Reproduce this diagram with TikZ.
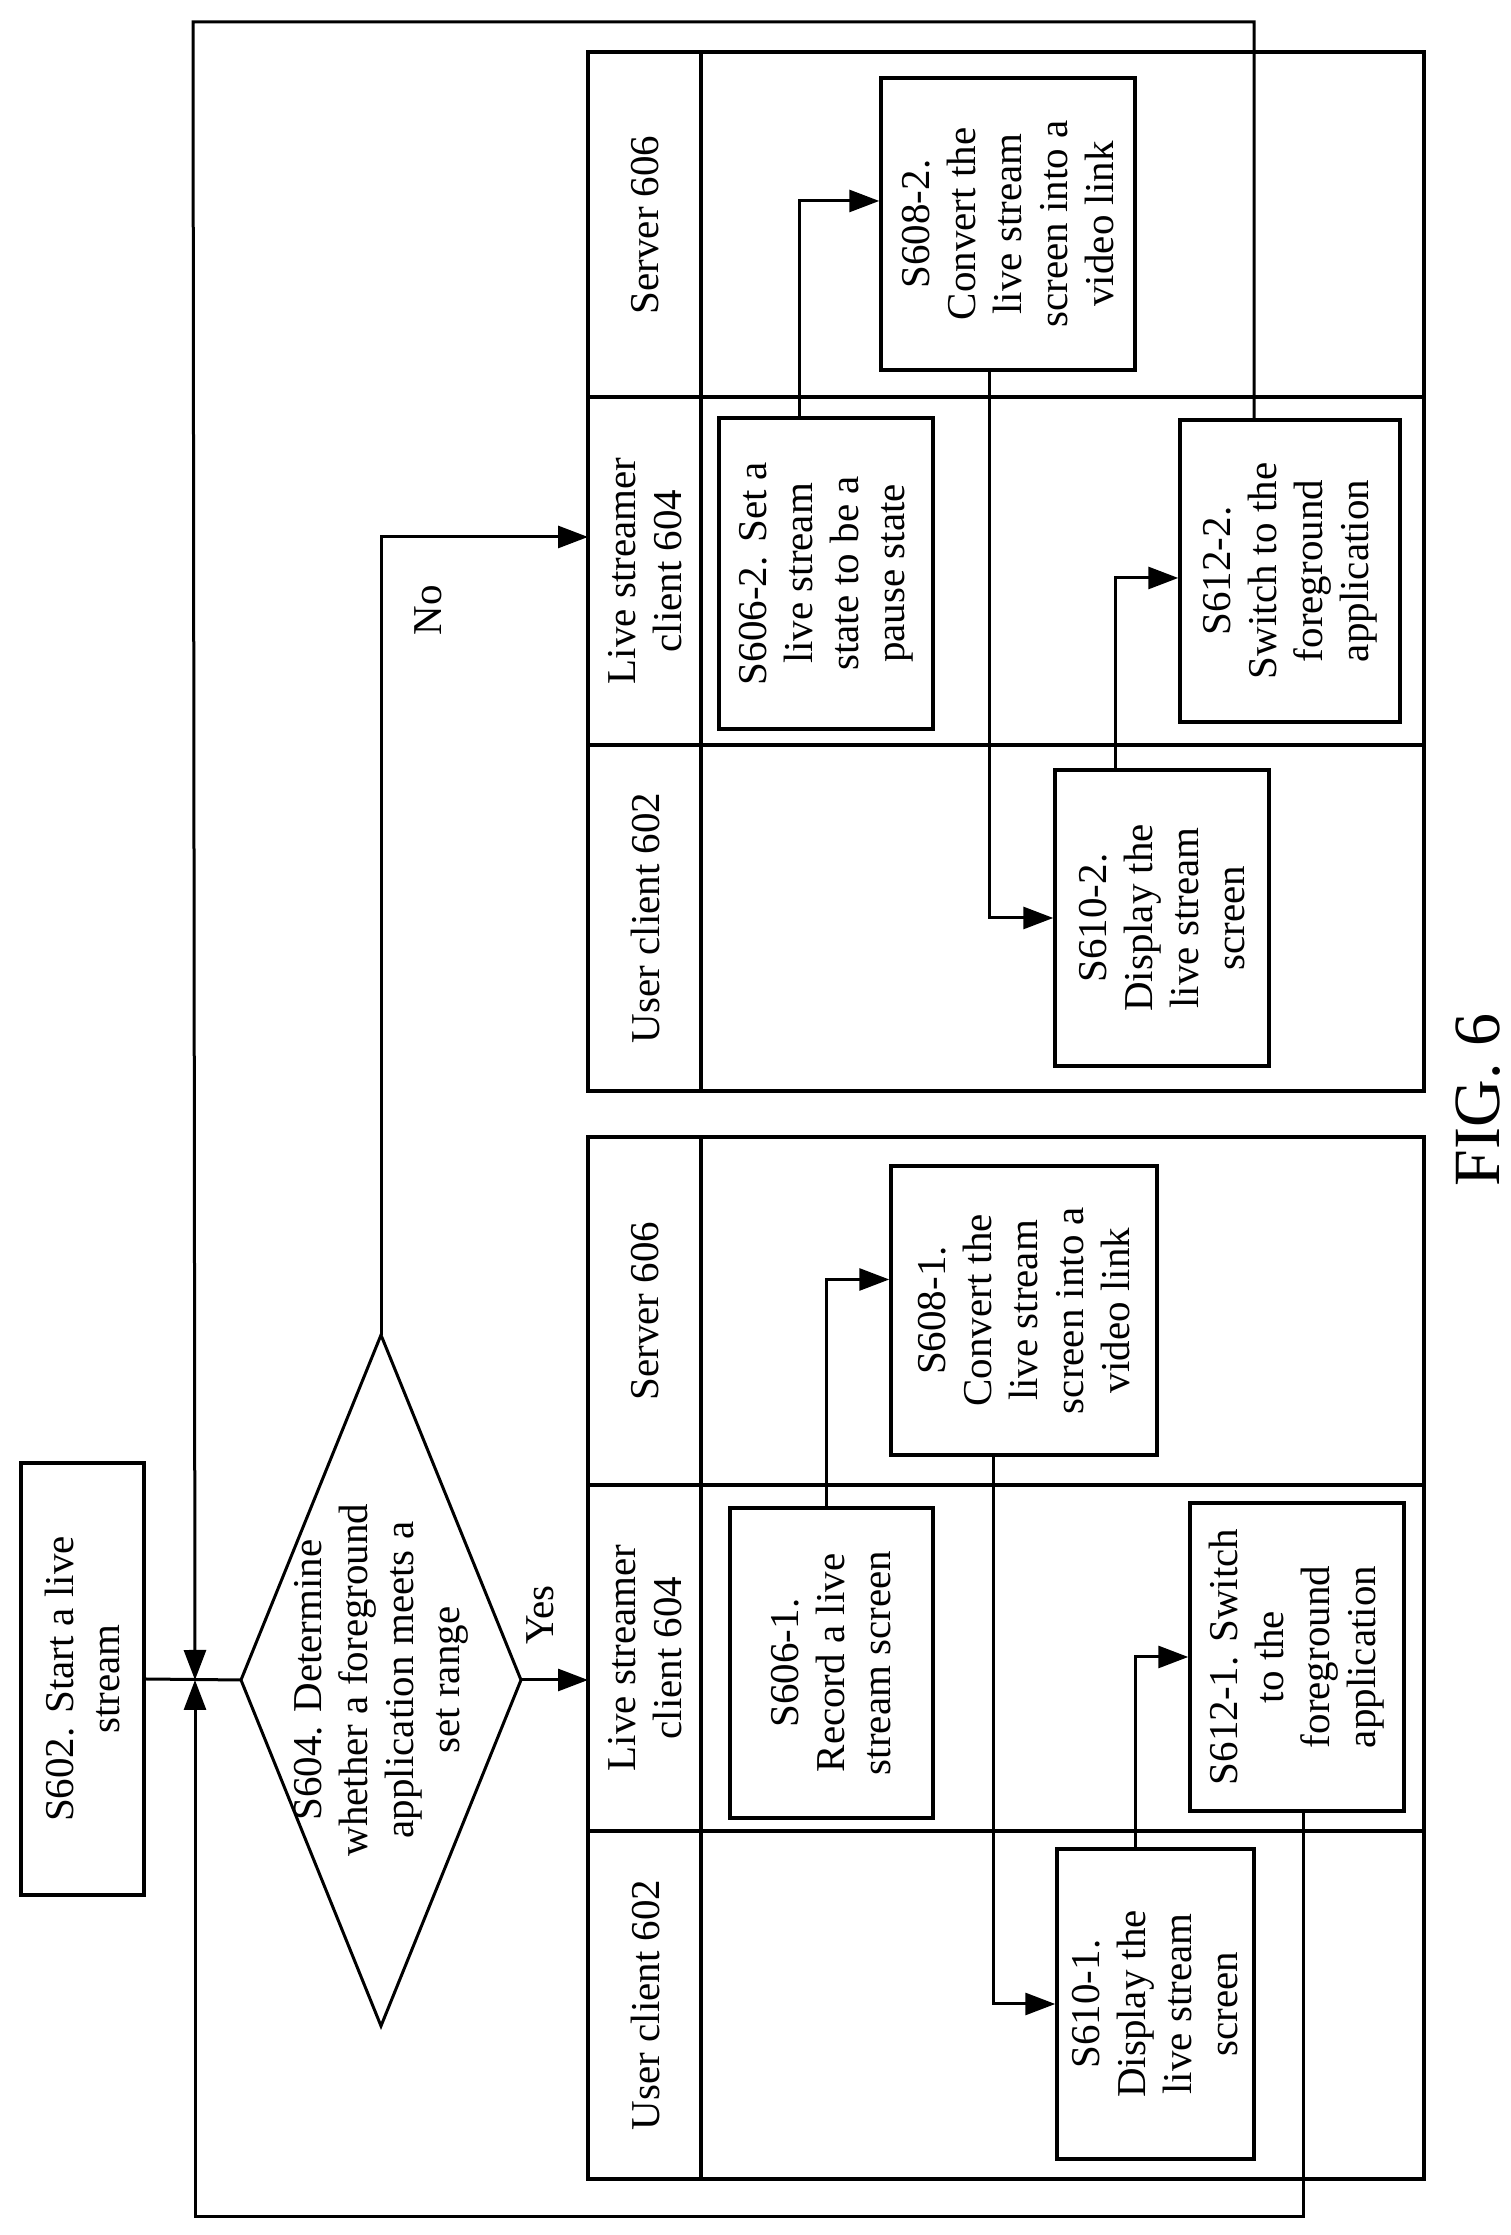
\documentclass[tikz,border=0pt]{standalone}
\usepackage{fontspec}
\setmainfont{Liberation Serif}
\usetikzlibrary{arrows.meta}
\begin{document}
\begin{tikzpicture}[x=1pt,y=1pt,
  every node/.style={font=\fontsize{41}{46}\selectfont},
  box/.style={draw,line width=3.5pt,rotate=90,align=center,inner sep=2pt},
  ln/.style={line width=3pt},
  arr/.style={line width=3pt,-{Triangle[length=30pt,width=22pt]}},
  tbl/.style={line width=3.5pt}]
\useasboundingbox (0,0) rectangle (1510,2235);
% tables
\draw[tbl] (588,1144) rectangle (1424,2183);
\draw[tbl] (701,1144) -- (701,2183);
\draw[tbl] (588,1838) -- (1424,1838) (588,1490) -- (1424,1490);
\draw[tbl] (588,56) rectangle (1424,1098);
\draw[tbl] (701,56) -- (701,1098);
\draw[tbl] (588,750) -- (1424,750) (588,404) -- (1424,404);
\node[rotate=90] (h1s) at (645,2010) {Server 606};
\node[rotate=90,align=center] (h1l) at (645,1664) {Live streamer\\client 604};
\node[rotate=90] (h1u) at (645,1317) {User client 602};
\node[rotate=90] (h2s) at (645,924) {Server 606};
\node[rotate=90,align=center] (h2l) at (645,577) {Live streamer\\client 604};
\node[rotate=90] (h2u) at (645,230) {User client 602};
% boxes
\node[box,minimum width=432,minimum height=123] (start) at (82.5,556) {S602. Start a live\\stream};
\node[box,minimum width=292,minimum height=254] (s608b) at (1008,2011) {S608-2.\\Convert the\\live stream\\screen into a\\video link};
\node[box,minimum width=311,minimum height=214] (s606b) at (826,1661.5) {S606-2. Set a\\live stream\\state to be a\\pause state};
\node[box,minimum width=302,minimum height=220] (s612b) at (1290,1664) {S612-2.\\Switch to the\\foreground\\application};
\node[box,minimum width=296,minimum height=214] (s610b) at (1162,1317) {S610-2.\\Display the\\live stream\\screen};
\node[box,minimum width=289,minimum height=266] (s608a) at (1024,924.5) {S608-1.\\Convert the\\live stream\\screen into a\\video link};
\node[box,minimum width=310,minimum height=203] (s606a) at (831.5,572) {S606-1.\\Record a live\\stream screen};
\node[box,minimum width=308,minimum height=214] (s612a) at (1297,578) {S612-1. Switch\\to the\\foreground\\application};
\node[box,minimum width=310,minimum height=197] (s610a) at (1155.5,231) {S610-1.\\Display the\\live stream\\screen};
% diamond
\coordinate (dl) at (241,555);
\coordinate (dr) at (521,555);
\coordinate (dt) at (381,900);
\coordinate (db) at (381,209);
\draw[line width=3pt] (dl) -- (dt) -- (dr) -- (db) -- cycle;
\node[rotate=90,align=center] (dtext) at (381,555) {S604. Determine\\whether a foreground\\application meets a\\set range};
\coordinate (J) at (195,555);
\coordinate (t1) at (588,1698);
\coordinate (t2) at (588,555);
% connectors
\draw[ln] (start.south) -- (dl);
\draw[arr] (dt) |- (t1);
\draw[arr] (dr) -- (t2);
\node[rotate=90] (no) at (428,1625) {No};
\node[rotate=90] (yes) at (540,620) {Yes};
\draw[arr] ([xshift=-27pt]s606b.east) |- ([yshift=23pt]s608b.north);
\draw[arr] ([xshift=-19pt]s608b.west) |- (s610b.north);
\draw[arr] ([xshift=-47pt]s610b.east) |- ([yshift=-7pt]s612b.north);
\draw[arr] ([xshift=-5pt]s606a.east) |- ([yshift=31pt]s608a.north);
\draw[arr] ([xshift=-31pt]s608a.west) |- (s610a.north);
\draw[arr] ([xshift=-20pt]s610a.east) |- (s612a.north);
\draw[arr] ([xshift=-36pt]s612b.east) -- (1254,2213) -- (193,2213) -- (J);
\draw[arr] ([xshift=6pt]s612a.west) -- (1303,18) -- (195,18) -- (J);
\node[rotate=90,font=\fontsize{66}{70}\selectfont] (fig) at (1478,1135) {FIG. 6};
\end{tikzpicture}
\end{document}
